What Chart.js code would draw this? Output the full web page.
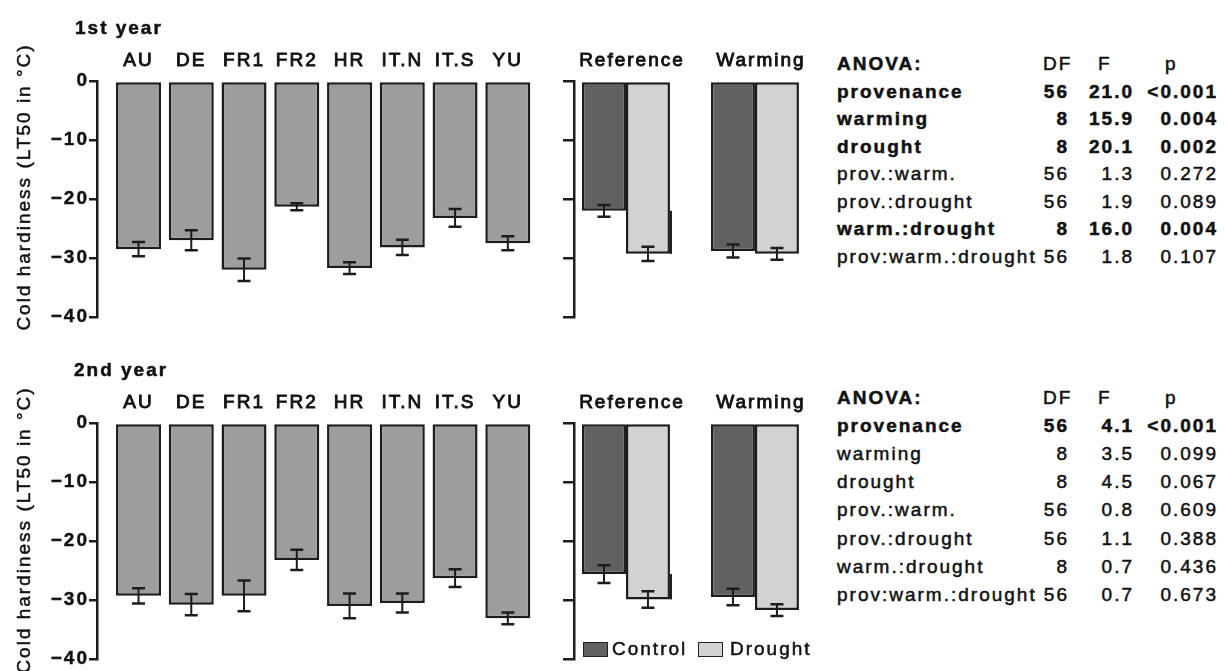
<!DOCTYPE html>
<html>
<head>
<meta charset="utf-8">
<script src="https://cdn.jsdelivr.net/npm/chart.js@4.4.0/dist/chart.umd.min.js"></script>
<style>
  body { margin: 0; width: 1228px; height: 671px; overflow: hidden; background: #fff;
         font-family: 'Liberation Sans', Arial, sans-serif; color: #111; position: relative; }
  canvas { position: absolute; }
  .txt { position: absolute; white-space: nowrap; font-size: 19px; line-height: 1; letter-spacing: 2px;
         -webkit-text-stroke: 0.5px #111; }
  .year { font-weight: bold; }
  .ytitle { transform: translate(-50%, -50%) rotate(-90deg); }
  .swatch { position: absolute; width: 23px; height: 13px; border: 1.5px solid #222; }
</style>
</head>
<body>
<canvas id="prov1" width="545" height="335" style="left:0;top:0"></canvas>
<canvas id="treat1" width="275" height="335" style="left:545px;top:0"></canvas>
<canvas id="prov2" width="545" height="335" style="left:0;top:342px"></canvas>
<canvas id="treat2" width="275" height="335" style="left:545px;top:342px"></canvas>

<script>
// categories and ticks
const provenances = ['AU', 'DE', 'FR1', 'FR2', 'HR', 'IT.N', 'IT.S', 'YU'];
const treatments = ['Reference', 'Warming'];
const yTicks = [0, -10, -20, -30, -40];

// 1st year
const prov1 = [-28.5, -27.0, -32.0, -21.3, -31.7, -28.2, -23.2, -27.5];
const provErr1 = [1.2, 1.7, 1.9, 0.6, 1.0, 1.3, 1.5, 1.2];
const control1 = [-22.0, -28.8];
const controlErr1 = [1.0, 1.1];
const drought1 = [-29.3, -29.3];
const droughtErr1 = [1.2, 1.0];

// 2nd year
const prov2 = [-29.3, -30.8, -29.3, -23.2, -31.0, -30.5, -26.3, -33.1];
const provErr2 = [1.3, 1.8, 2.6, 1.7, 2.1, 1.6, 1.5, 1.0];
const control2 = [-25.6, -29.5];
const controlErr2 = [1.5, 1.4];
const drought2 = [-29.9, -31.7];
const droughtErr2 = [1.4, 1.0];

// ANOVA tables
const anovaTerms = ['provenance', 'warming', 'drought', 'prov.:warm.', 'prov.:drought', 'warm.:drought', 'prov:warm.:drought'];
const anovaDF = ['56', '8', '8', '56', '56', '8', '56'];
const anovaF1 = ['21.0', '15.9', '20.1', '1.3', '1.9', '16.0', '1.8'];
const anovaP1 = ['<0.001', '0.004', '0.002', '0.272', '0.089', '0.004', '0.107'];
const anovaBold1 = [true, true, true, false, false, true, false];
const anovaF2 = ['4.1', '3.5', '4.5', '0.8', '1.1', '0.7', '0.7'];
const anovaP2 = ['<0.001', '0.099', '0.067', '0.609', '0.388', '0.436', '0.673'];
const anovaBold2 = [true, false, false, false, false, false, false];

const FONT = "'Liberation Sans', Arial, sans-serif";
const INK = '#111';
const EDGE = '#1c1c1c';
const PROV_FILL = '#9d9d9f';
const CONTROL_FILL = '#616163';
const DROUGHT_FILL = '#d2d2d4';

// canvas text in the figure is set wide
const letterSpacing = {
  id: 'letterSpacing',
  beforeLayout(chart) { chart.ctx.letterSpacing = '2px'; },
  beforeDraw(chart) { chart.ctx.letterSpacing = '2px'; }
};

// error bars (and the reference bracket) drawn from data through the y scale
const errorBars = {
  id: 'errorBars',
  afterDatasetsDraw(chart) {
    const ctx = chart.ctx;
    const y = chart.scales.y;
    ctx.save();
    ctx.strokeStyle = EDGE;
    chart.data.datasets.forEach((ds, di) => {
      if (!ds.errors) return;
      chart.getDatasetMeta(di).data.forEach((bar, i) => {
        const v = ds.data[i].y, e = ds.errors[i];
        const top = y.getPixelForValue(v + e);
        const bot = y.getPixelForValue(v - e);
        ctx.lineWidth = 2;
        ctx.beginPath();
        ctx.moveTo(bar.x, top);
        ctx.lineTo(bar.x, bot);
        ctx.stroke();
        ctx.lineWidth = 2.5;
        ctx.beginPath();
        ctx.moveTo(bar.x - 6.5, top); ctx.lineTo(bar.x + 6.5, top);
        ctx.moveTo(bar.x - 6.5, bot); ctx.lineTo(bar.x + 6.5, bot);
        ctx.stroke();
      });
    });
    if (chart.options.plugins.errorBars && chart.options.plugins.errorBars.bracket) {
      const c = chart.getDatasetMeta(0).data[0];
      const d = chart.getDatasetMeta(1).data[0];
      const xr = d.x + d.width / 2 + 1;
      ctx.lineWidth = 2;
      ctx.beginPath();
      ctx.moveTo(xr, c.y);
      ctx.lineTo(xr, d.y);
      ctx.stroke();
    }
    ctx.restore();
  }
};

function yScale(width, tickLength, showLabels) {
  return {
    min: -40, max: 0,
    afterBuildTicks: s => { s.ticks = yTicks.map(v => ({ value: v })); },
    afterFit: s => { s.width = width; },
    border: { display: true, color: EDGE, width: 2.5 },
    grid: { display: true, drawOnChartArea: false, drawTicks: true, tickLength: tickLength, color: EDGE, lineWidth: 2.5 },
    ticks: {
      display: showLabels, padding: 0, color: INK,
      textStrokeColor: INK, textStrokeWidth: 0.4,
      font: { family: FONT, size: 19, weight: 'bold' },
      callback: v => v < 0 ? '\u2212' + Math.abs(v) : String(v)
    }
  };
}

function xScale(labels, min, max, labelOffset) {
  return {
    type: 'linear', position: 'top', min: min, max: max, offset: false,
    afterFit: s => { s.height = 81; },
    border: { display: false },
    grid: { display: false, drawTicks: false, offset: false },
    ticks: {
      stepSize: 1, includeBounds: false, autoSkip: false, maxRotation: 0,
      padding: 9, labelOffset: labelOffset, color: INK,
      textStrokeColor: INK, textStrokeWidth: 0.9,
      font: { family: FONT, size: 19 },
      callback: v => labels[v] ?? ''
    }
  };
}

const common = {
  responsive: false,
  animation: false,
  events: [],
  plugins: { legend: { display: false }, tooltip: { enabled: false } }
};

function barSet(values, errs, fill, label) {
  return {
    label: label,
    data: values.map((v, i) => ({ x: i, y: v })),
    errors: errs,
    backgroundColor: fill,
    borderColor: EDGE,
    borderWidth: 2.5,
    borderSkipped: false,
    clip: false
  };
}

function provChart(id, values, errs) {
  const ds = barSet(values, errs, PROV_FILL, 'Provenance');
  ds.barPercentage = 0.853;
  ds.categoryPercentage = 1;
  return new Chart(document.getElementById(id), {
    type: 'bar',
    data: { datasets: [ds] },
    plugins: [letterSpacing, errorBars],
    options: Object.assign({}, common, {
      layout: { padding: { left: 0, top: 0, right: 10.8, bottom: 18 } },
      scales: { x: xScale(provenances, -0.787, 7.5, 0), y: yScale(97, 8, true) }
    })
  });
}

function treatChart(id, control, controlErr, drought, droughtErr) {
  const a = barSet(control, controlErr, CONTROL_FILL, 'Control');
  const b = barSet(drought, droughtErr, DROUGHT_FILL, 'Drought');
  [a, b].forEach(ds => { ds.barPercentage = 1; ds.categoryPercentage = 0.682; });
  return new Chart(document.getElementById(id), {
    type: 'bar',
    data: { datasets: [a, b] },
    plugins: [letterSpacing, errorBars],
    options: Object.assign({}, common, {
      plugins: { legend: { display: false }, tooltip: { enabled: false }, errorBars: { bracket: true } },
      layout: { padding: { left: 0, top: 0, right: 7, bottom: 18 } },
      scales: { x: xScale(treatments, -0.403, 1.45, 6), y: yScale(29, 11, false) }
    })
  });
}

provChart('prov1', prov1, provErr1);
treatChart('treat1', control1, controlErr1, drought1, droughtErr1);
provChart('prov2', prov2, provErr2);
treatChart('treat2', control2, controlErr2, drought2, droughtErr2);

// text overlays
function addText(text, left, top, cls, align) {
  const el = document.createElement('div');
  el.className = 'txt ' + (cls || '');
  el.textContent = text;
  el.style.left = left + 'px';
  el.style.top = top + 'px';
  if (align === 'right') el.style.transform = 'translate(-100%, -50%)';
  else if (!cls || cls.indexOf('ytitle') < 0) el.style.transform = 'translate(0, -50%)';
  document.body.appendChild(el);
  return el;
}

function anovaTable(top, step, fVals, pVals, bold) {
  addText('ANOVA:', 837, top, '').style.fontWeight = 'bold';
  addText('DF', 1043, top, '');
  addText('F', 1098, top, '');
  addText('p', 1165, top, '');
  anovaTerms.forEach((term, i) => {
    const y = top + step * (i + 1);
    const cells = [
      addText(term, 837, y, ''),
      addText(anovaDF[i], 1069, y, '', 'right'),
      addText(fVals[i], 1134, y, '', 'right'),
      addText(pVals[i], 1218, y, '', 'right')
    ];
    if (bold[i]) cells.forEach(c => { c.style.fontWeight = 'bold'; });
  });
}

const titles = ['1st year', '2nd year'];
addText(titles[0], 75, 27, 'year');
addText(titles[1], 74, 369, 'year');
addText('Cold hardiness (LT50 in \u00b0C)', 23, 187, 'ytitle');
addText('Cold hardiness (LT50 in \u00b0C)', 23, 530, 'ytitle');
anovaTable(63, 27.5, anovaF1, anovaP1, anovaBold1);
anovaTable(397, 28.1, anovaF2, anovaP2, anovaBold2);

// legend
const legendItems = [['Control', CONTROL_FILL, 583, 612], ['Drought', DROUGHT_FILL, 698, 730]];
legendItems.forEach(([name, fill, sx, tx]) => {
  const sw = document.createElement('div');
  sw.className = 'swatch';
  sw.style.left = sx + 'px';
  sw.style.top = '642px';
  sw.style.background = fill;
  document.body.appendChild(sw);
  addText(name, tx, 648, '');
});
</script>
</body>
</html>
